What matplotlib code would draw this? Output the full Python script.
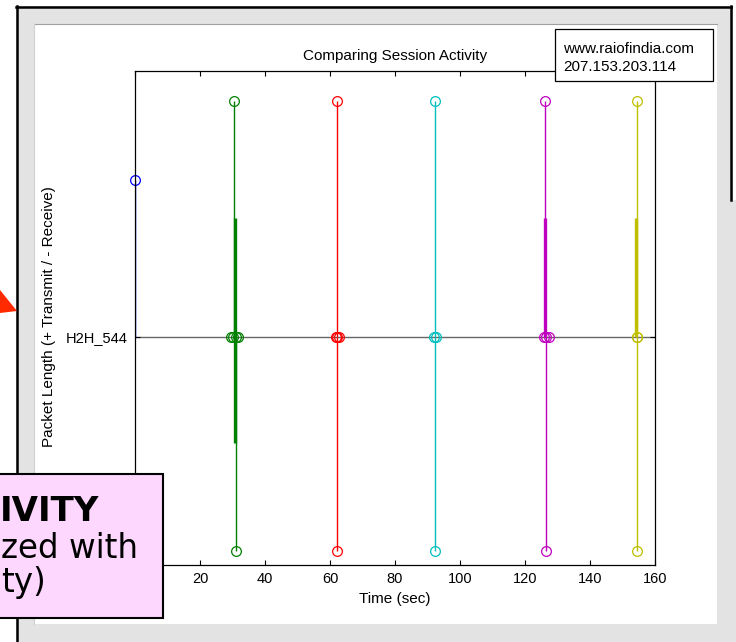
import numpy as np
import matplotlib.pyplot as plt
from matplotlib.patches import Rectangle, Polygon

plt.rcParams['font.family'] = ['Liberation Sans', 'DejaVu Sans']

# --- donnees : une liste par session (temps en s, longueur de paquet) ---
blue_t = [0.0]
blue_len = [994]

green_t = [30.4, 31.0, 29.6, 30.3, 31.0, 31.7]
green_len = [1500, -1364, 0, 0, 0, 0]

red_t = [62.3, 62.3, 61.7, 62.3, 62.9]
red_len = [1500, -1364, 0, 0, 0]

cyan_t = [92.4, 92.4, 92.0, 92.7]
cyan_len = [1500, -1364, 0, 0]

magenta_t = [126.2, 126.5, 125.8, 126.5, 127.3]
magenta_len = [1500, -1364, 0, 0, 0]

yellow_t = [154.5, 154.5, 154.4, 154.6]
yellow_len = [1500, -1364, 0, 0]

# rafales de petits paquets (traits epais)
burst_t = [30.9, 126.3, 154.3]
burst_lo = [-674, 0, 0]
burst_hi = [756, 756, 756]

xticks = [0, 20, 40, 60, 80, 100, 120, 140, 160]
ytick_labels = ['H2H_544']

# couleurs matlab (ancien ordre)
c_blue = (0, 0, 1)
c_green = (0, 0.5, 0)
c_red = (1, 0, 0)
c_cyan = (0, 0.75, 0.75)
c_magenta = (0.75, 0, 0.75)
c_yellow = (0.75, 0.75, 0)

W, H = 736, 642


def fx(px):
    return px / W


def fy(py):
    return 1 - py / H


fig = plt.figure(figsize=(W / 100, H / 100), dpi=100)
fig.patch.set_facecolor('white')

# cadre de la diapo + fenetre matlab
fig.add_artist(Rectangle((fx(16), fy(700)), fx(736) - fx(16), fy(6) - fy(700),
                         transform=fig.transFigure, facecolor='#e3e3e3',
                         edgecolor='none', zorder=-10))
fig.add_artist(plt.Line2D([fx(17), fx(17)], [fy(6), fy(642)], color='black',
                          lw=1.8, transform=fig.transFigure, zorder=-9))
fig.add_artist(plt.Line2D([fx(16), fx(732)], [fy(7), fy(7)], color='black',
                          lw=1.8, transform=fig.transFigure, zorder=-9))
fig.add_artist(plt.Line2D([fx(731), fx(731)], [fy(6), fy(200)], color='black',
                          lw=1.8, transform=fig.transFigure, zorder=-9))
fig.add_artist(Rectangle((fx(733), fy(200)), fx(736) - fx(733), fy(0) - fy(200),
                         transform=fig.transFigure, facecolor='white',
                         edgecolor='none', zorder=-9))
fig.add_artist(Rectangle((fx(34), fy(624)), fx(717) - fx(34), fy(24) - fy(624),
                         transform=fig.transFigure, facecolor='white',
                         edgecolor='none', zorder=-8))
fig.add_artist(plt.Line2D([fx(34), fx(717)], [fy(24), fy(24)], color='#a0a0a0',
                          lw=0.8, transform=fig.transFigure, zorder=-7))
fig.add_artist(plt.Line2D([fx(34), fx(34)], [fy(24), fy(624)], color='#d0d0d0',
                          lw=0.8, transform=fig.transFigure, zorder=-7))

ax = fig.add_axes([fx(135), fy(565), fx(655) - fx(135), fy(71) - fy(565)])
ax.set_facecolor('white')

sessions = [
    (blue_t, blue_len, c_blue),
    (green_t, green_len, c_green),
    (red_t, red_len, c_red),
    (cyan_t, cyan_len, c_cyan),
    (magenta_t, magenta_len, c_magenta),
    (yellow_t, yellow_len, c_yellow),
]

ax.axhline(0, color='#666666', lw=1.0, zorder=1.5)

for t, l, c in sessions:
    ax.vlines(t, 0, l, color=c, lw=1.0, zorder=2)
    ax.plot(t, l, 'o', mfc='none', mec=c, ms=7, mew=0.9, clip_on=False, zorder=3)

burst_c = [c_green, c_magenta, c_yellow]
for t, lo, hi, c in zip(burst_t, burst_lo, burst_hi, burst_c):
    ax.vlines(t, lo, hi, color=c, lw=2.4, zorder=2.2)

ax.set_xlim(0, 160)
ax.set_ylim(-1450, 1690)
ax.set_xticks(xticks)
ax.set_yticks([0])
ax.set_yticklabels(ytick_labels)

for s in ax.spines.values():
    s.set_linewidth(0.9)
    s.set_zorder(4)

ax.tick_params(direction='in', top=True, right=True, length=3.6, width=0.8,
               labelsize=10.5, pad=5)

ax.set_title('Comparing Session Activity', fontsize=11, pad=8)
ax.set_xlabel('Time (sec)', fontsize=11, labelpad=4)
ax.set_ylabel('Packet Length (+ Transmit / - Receive)', fontsize=11)
ax.yaxis.set_label_coords(-0.152, 0.502)

# encadre adresse
fig.add_artist(Rectangle((fx(555), fy(81)), fx(713) - fx(555), fy(29) - fy(81),
                         transform=fig.transFigure, facecolor='white',
                         edgecolor='black', lw=0.9, zorder=5))
fig.text(fx(563), fy(53), 'www.raiofindia.com', fontsize=11, va='baseline',
         ha='left', zorder=6)
fig.text(fx(563), fy(71), '207.153.203.114', fontsize=11, va='baseline',
         ha='left', zorder=6)

# fleche rouge coupee
fig.add_artist(Polygon([(fx(0), fy(290)), (fx(17), fy(311)), (fx(0), fy(313))],
                       closed=True, transform=fig.transFigure,
                       facecolor='#ff2a00', edgecolor='none', zorder=5))

# encadre rose de la diapo
fig.add_artist(Rectangle((fx(-5), fy(618)), fx(163) + 5 / W, fy(474) - fy(618),
                         transform=fig.transFigure, facecolor='#fdd7fd',
                         edgecolor='black', lw=1.5, zorder=5))
fig.text(fx(0), fy(521), 'IVITY', fontsize=24.5, fontweight='bold',
         family='DejaVu Sans', va='baseline', ha='left', zorder=6)
fig.text(fx(1), fy(558), 'zed with', fontsize=23.5,
         family='DejaVu Sans', va='baseline', ha='left', zorder=6)
fig.text(fx(1), fy(592), 'ty)', fontsize=23.5,
         family='DejaVu Sans', va='baseline', ha='left', zorder=6)

fig.savefig('out.png', dpi=100)
